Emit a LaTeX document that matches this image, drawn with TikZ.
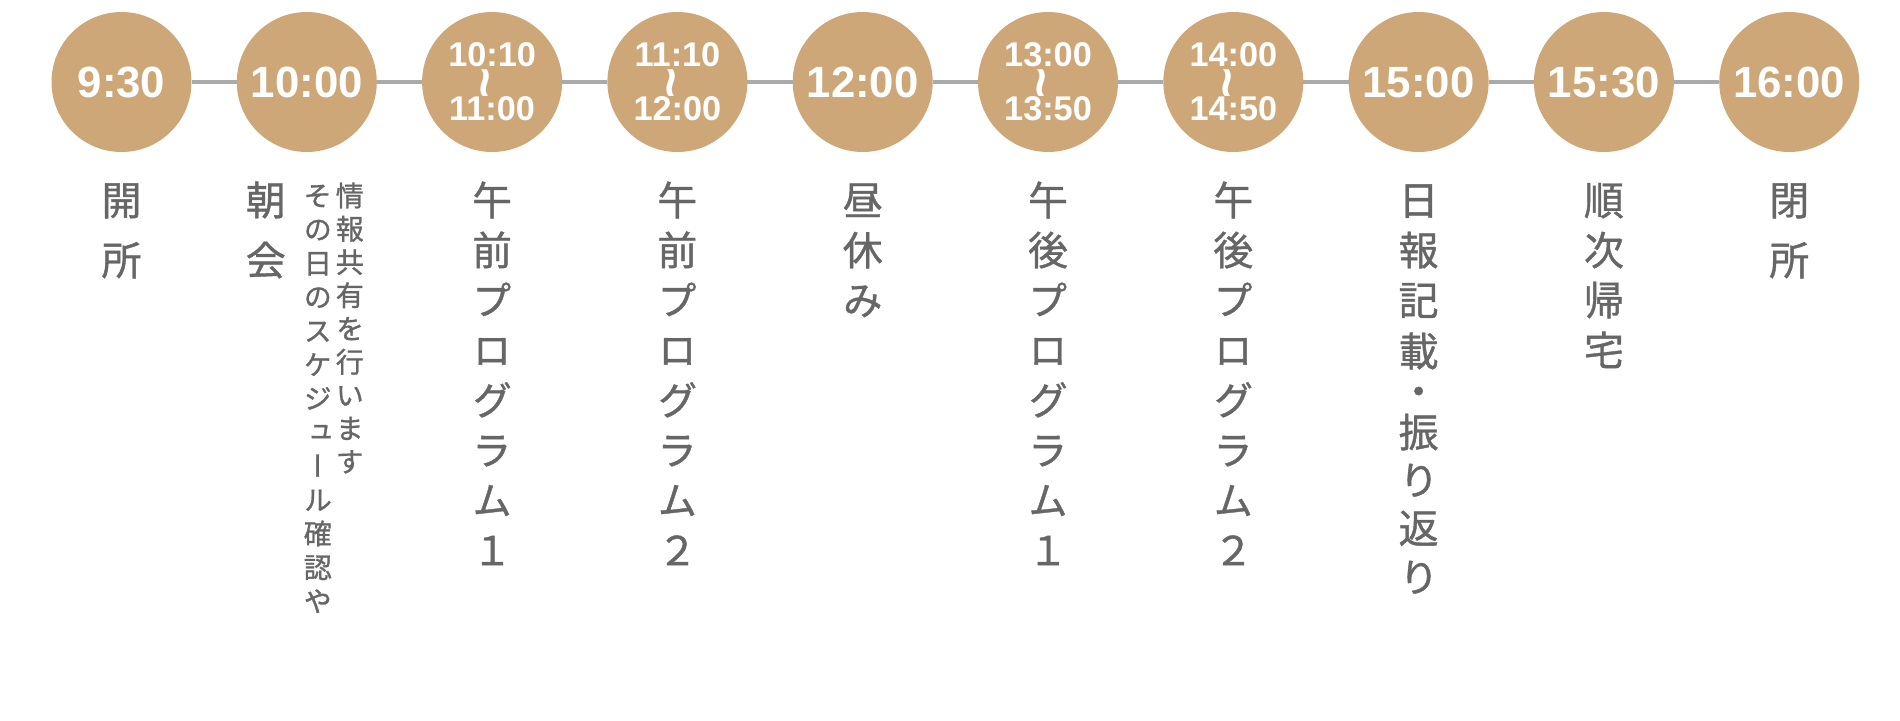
\documentclass[tikz,border=0pt]{standalone}
\usepackage{fontspec}
\setmainfont{Liberation Sans}
\newfontfamily\jpfont[RawFeature=+vert, FakeBold=1]{Noto Sans CJK JP}
\usetikzlibrary{positioning}

\definecolor{slotfill}{RGB}{205,167,119}
\definecolor{linkgray}{RGB}{170,170,170}
\definecolor{labelgray}{RGB}{102,102,102}

\begin{document}
\begin{tikzpicture}[node distance=0.906cm, auto,
            % Styles
            slot/.style={circle, fill=slotfill, minimum size=2.8cm, inner sep=0pt, outer sep=0pt, text=white, font=\bfseries\fontsize{24.9}{24.9}\selectfont},
            twoline/.style={slot, align=center, font=\bfseries\fontsize{19.5}{30.6}\selectfont},
            wave/.style={rotate=90, inner sep=0pt, text=white, font=\bfseries\fontsize{30}{30}\selectfont},
            link/.style={draw=linkgray, line width=0.08cm},
            big/.style={inner sep=0pt, text=labelgray, font=\jpfont\fontsize{22.7}{22.7}\selectfont, text height=19.98pt, text depth=2.72pt},
            small/.style={inner sep=0pt, text=labelgray, font=\jpfont\fontsize{16}{16}\selectfont, text height=14.08pt, text depth=1.92pt}
        ]
        \useasboundingbox (0,0) rectangle (38,-14.4);

        % Time slots
        \node [slot] (t1) at (2.43,-1.64) {9:30};
        \node [slot, right=of t1] (t2) {10:00};
        \node [twoline, right=of t2] (t3) {10:10\\11:00};
        \node [twoline, right=of t3] (t4) {11:10\\12:00};
        \node [slot, right=of t4] (t5) {12:00};
        \node [twoline, right=of t5] (t6) {13:00\\13:50};
        \node [twoline, right=of t6] (t7) {14:00\\14:50};
        \node [slot, right=of t7] (t8) {15:00};
        \node [slot, right=of t8] (t9) {15:30};
        \node [slot, right=of t9] (t10) {16:00};

        % Range marks
        \node [wave] (w3) at ([yshift=-0.03cm]t3.center) {\textasciitilde};
        \node [wave] (w4) at ([yshift=-0.03cm]t4.center) {\textasciitilde};
        \node [wave] (w6) at ([yshift=-0.03cm]t6.center) {\textasciitilde};
        \node [wave] (w7) at ([yshift=-0.03cm]t7.center) {\textasciitilde};

        % Edges
        \path [link] (t1) -- (t2);
        \path [link] (t2) -- (t3);
        \path [link] (t3) -- (t4);
        \path [link] (t4) -- (t5);
        \path [link] (t5) -- (t6);
        \path [link] (t6) -- (t7);
        \path [link] (t7) -- (t8);
        \path [link] (t8) -- (t9);
        \path [link] (t9) -- (t10);

        % Labels
        \foreach \c [count=\k] in {開,所}
            \node [big] (open-\k) at ([yshift={-2.36cm-(\k-1)*1.2cm}]t1.center) {\c};
        \foreach \c [count=\k] in {朝,会}
            \node [big] (morning-\k) at ([xshift=-0.82cm, yshift={-2.36cm-(\k-1)*1.2cm}]t2.center) {\c};
        \foreach \c [count=\k] in {そ,の,日,の,ス,ケ,ジ,ュ,ー,ル,確,認,や}
            \node [small] (memo-\k) at ([xshift=0.22cm, yshift={-2.27cm-(\k-1)*0.676cm}]t2.center) {\c};
        \foreach \c [count=\k] in {情,報,共,有,を,行,い,ま,す}
            \node [small] (note-\k) at ([xshift=0.86cm, yshift={-2.27cm-(\k-1)*0.665cm}]t2.center) {\c};
        \foreach \c [count=\k] in {午,前,プ,ロ,グ,ラ,ム,１}
            \node [big] (amone-\k) at ([yshift={-2.36cm-(\k-1)*1cm}]t3.center) {\c};
        \foreach \c [count=\k] in {午,前,プ,ロ,グ,ラ,ム,２}
            \node [big] (amtwo-\k) at ([yshift={-2.36cm-(\k-1)*1cm}]t4.center) {\c};
        \foreach \c [count=\k] in {昼,休,み}
            \node [big] (lunch-\k) at ([yshift={-2.36cm-(\k-1)*1cm}]t5.center) {\c};
        \foreach \c [count=\k] in {午,後,プ,ロ,グ,ラ,ム,１}
            \node [big] (pmone-\k) at ([yshift={-2.36cm-(\k-1)*1cm}]t6.center) {\c};
        \foreach \c [count=\k] in {午,後,プ,ロ,グ,ラ,ム,２}
            \node [big] (pmtwo-\k) at ([yshift={-2.36cm-(\k-1)*1cm}]t7.center) {\c};
        \foreach \c/\d [count=\k] in {日/2.36, 報/3.36, 記/4.36, 載/5.38, ・/6.18, 振/7.0, り/7.96, 返/8.92, り/9.9}
            \node [big] (report-\k) at ([yshift=-\d cm]t8.center) {\c};
        \foreach \c [count=\k] in {順,次,帰,宅}
            \node [big] (leave-\k) at ([yshift={-2.36cm-(\k-1)*1cm}]t9.center) {\c};
        \foreach \c [count=\k] in {閉,所}
            \node [big] (close-\k) at ([yshift={-2.36cm-(\k-1)*1.2cm}]t10.center) {\c};

    \end{tikzpicture}
\end{document}
